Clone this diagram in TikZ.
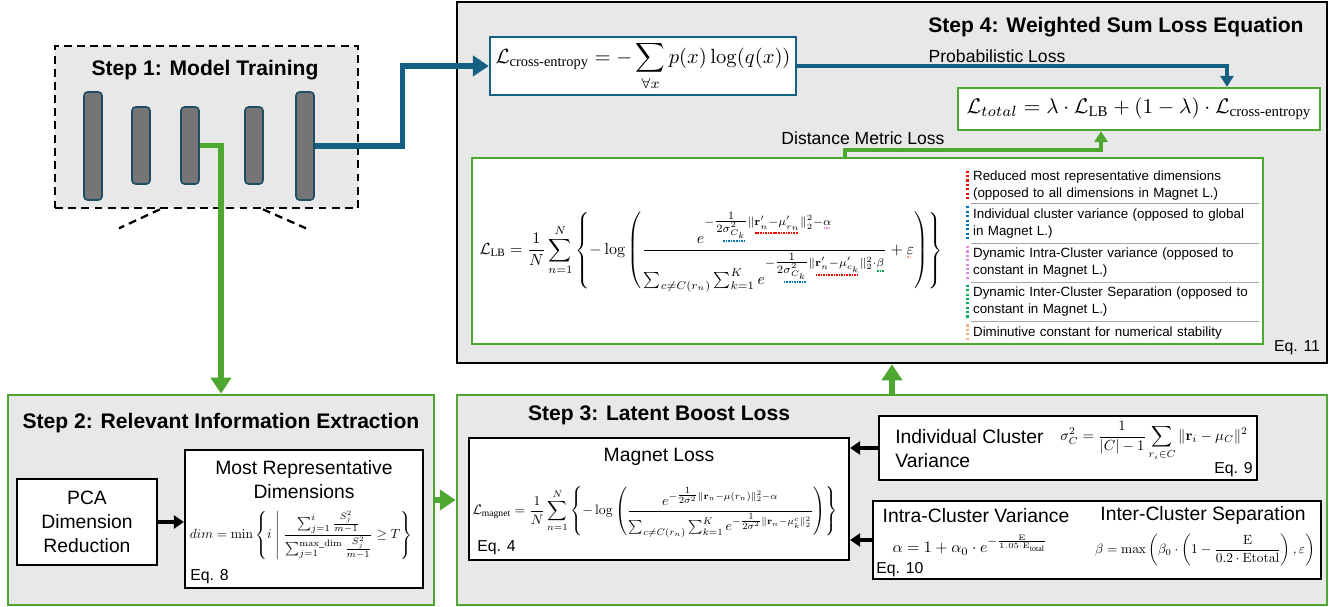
\documentclass[tikz,border=0pt]{standalone}
\usepackage{amsmath}
\usepackage{graphicx}
\usepackage[no-math]{fontspec}
\setmainfont{Liberation Sans}
\newfontfamily\timesfont{Liberation Serif}
\usepackage{tikz}
\usetikzlibrary{arrows.meta,positioning,calc}

\definecolor{panelgray}{HTML}{E8E8E8}
\definecolor{lossgreen}{HTML}{4EA72E}
\definecolor{lossteal}{HTML}{156082}
\definecolor{bargray}{HTML}{757575}
\definecolor{bardark}{HTML}{1C4C66}
\definecolor{dotred}{HTML}{FF0000}
\definecolor{dotblue}{HTML}{0070C0}
\definecolor{dotpink}{HTML}{E38BE0}
\definecolor{dotgreen}{HTML}{00B050}
\definecolor{dotpeach}{HTML}{F7AE86}

% upright words inside formulas
\newcommand{\eqtext}[1]{\text{\timesfont #1}}
% formula squeezed to a given width
\newcommand{\fiteq}[2]{\resizebox{#1}{!}{$\displaystyle #2$}}
\newcommand{\efrac}[2]{\genfrac{}{}{}{1}{#1}{#2}}
% dotted coloured underline for one term
\makeatletter
\newcommand{\dotul}[2]{\mathpalette{\dotul@{#1}}{#2}}
\newcommand{\dotul@}[3]{\setbox0=\hbox{$\m@th#2#3$}%
  \vtop{\offinterlineskip\copy0\kern1pt\hbox to\wd0{\color{#1}\leaders\hbox to 1.6pt{\hss\vrule width 1pt height 1pt\hss}\hfill}}}
\makeatother

\begin{document}
\begin{tikzpicture}[x=0.02cm, y=-0.02cm,
    panel/.style={draw, fill=panelgray, line width=1.5pt, inner sep=0pt},
    card/.style={draw, fill=white, line width=1.3pt, inner sep=0pt},
    title/.style={font=\fontsize{12}{14}\selectfont\bfseries},
    body/.style={font=\fontsize{11}{13.6}\selectfont, align=center, inner sep=0pt},
    tag/.style={font=\fontsize{10}{12}\selectfont, inner sep=0pt},
    eqno/.style={font=\fontsize{9}{10}\selectfont, inner sep=0pt},
    layer/.style={draw=bardark, fill=bargray, line width=0.9pt, rounded corners=2pt, minimum width=0.36cm, inner sep=0pt},
    key/.style={anchor=north west, text width=5.68cm, align=left, inner xsep=1pt, inner ysep=0pt, font=\fontsize{7.6}{9.6}\selectfont},
    keybar/.style={line width=1.6pt, dash pattern=on 1.2pt off 1.3pt, shorten <=1.5pt, shorten >=2pt},
    flow/.style={line width=3pt, -{Triangle[length=0.32cm, width=0.4cm]}},
    thinflow/.style={line width=2.2pt, -{Triangle[length=0.22cm, width=0.26cm]}},
    blackflow/.style={line width=2pt, -{Triangle[length=0.2cm, width=0.26cm]}},
]
    \useasboundingbox (0,0) rectangle (1340,607);

    % Panels
    \node[panel, dash pattern=on 4.5pt off 3pt, minimum width=6.06cm, minimum height=3.24cm] (step1) at (206.5,127) {};
    \node[panel, minimum width=17.4cm, minimum height=7.22cm] (step4) at (892,182.5) {};
    \node[panel, draw=lossgreen, minimum width=8.52cm, minimum height=4.2cm] (step2) at (221,500) {};
    \node[panel, draw=lossgreen, minimum width=17.4cm, minimum height=4.2cm] (step3) at (892,500) {};

    % Step 1: network layers
    \node[title] (s1title) at (205,70) {Step 1: Model Training};
    \node[layer, minimum height=2.16cm] (l1) at (93,146) {};
    \node[layer, minimum height=1.54cm] (l2) at (141,145.5) {};
    \node[layer, minimum height=1.54cm] (l3) at (190,145.5) {};
    \node[layer, minimum height=1.54cm] (l4) at (254,145.5) {};
    \node[layer, minimum height=2.16cm] (l5) at (305,146) {};
    \draw[dash pattern=on 4.5pt off 3pt, line width=1.3pt] ([xshift=-0.93cm]step1.south) -- ++(-41,19);
    \draw[dash pattern=on 4.5pt off 3pt, line width=1.3pt] ([xshift=1.13cm]step1.south) -- ++(43,19);

    % Step 4: weighted sum
    \node[title] (s4title) at (1116,27) {Step 4: Weighted Sum Loss Equation};
    \node[card, draw=lossteal, minimum width=6.12cm, minimum height=1.16cm] (ce) at (643,66)
        {\fiteq{5.9cm}{\mathcal{L}_{\eqtext{cross-entropy}} = -\sum_{\forall x} p(x)\log(q(x))}};
    \node[card, draw=lossgreen, minimum width=7.24cm, minimum height=0.84cm] (total) at (1139,109)
        {\fiteq{6.9cm}{\mathcal{L}_{total} = \lambda\cdot\mathcal{L}_{\eqtext{LB}} + (1-\lambda)\cdot\mathcal{L}_{\eqtext{cross-entropy}}}};
    \node[card, draw=lossgreen, minimum width=15.82cm, minimum height=3.72cm] (lb) at (867.5,251) {};
    \node (lbeq) at (711,252) {\fiteq{9.26cm}{\mathcal{L}_{\eqtext{LB}} = \frac{1}{N}\sum_{n=1}^{N}\left\{-\log\left(
        \frac{e^{-\efrac{1}{2\dotul{dotblue}{\sigma^2_{C_k}}}\|\dotul{dotred}{\mathbf{r}'_n-\mu'_{r_n}}\|_2^2-\dotul{dotpink}{\alpha}}}
             {\sum_{c\neq C(r_n)}\sum_{k=1}^{K} e^{-\efrac{1}{2\dotul{dotblue}{\sigma^2_{C_k}}}\|\dotul{dotred}{\mathbf{r}'_n-\mu'_{c_k}}\|_2^2\cdot\dotul{dotgreen}{\beta}}}
        + \dotul{dotpeach}{\varepsilon}\right)\right\}}};

    % Legend of the new terms
    \node[key, minimum height=0.7cm] (k1) at (971,168) {Reduced most representative dimensions\\(opposed to all dimensions in Magnet L.)};
    \node[key, minimum height=0.78cm, below=0pt of k1] (k2) {Individual cluster variance (opposed to global\\in Magnet L.)};
    \node[key, minimum height=0.76cm, below=0pt of k2] (k3) {Dynamic Intra-Cluster variance (opposed to\\constant in Magnet L.)};
    \node[key, minimum height=0.78cm, below=0pt of k3] (k4) {Dynamic Inter-Cluster Separation (opposed to\\constant in Magnet L.)};
    \node[key, minimum height=0.44cm, below=0pt of k4] (k5) {Diminutive constant for numerical stability};
    \draw[gray!70, line width=0.6pt] (k1.south west) -- (k1.south east);
    \draw[gray!70, line width=0.6pt] (k2.south west) -- (k2.south east);
    \draw[gray!70, line width=0.6pt] (k3.south west) -- (k3.south east);
    \draw[gray!70, line width=0.6pt] (k4.south west) -- (k4.south east);
    \draw[keybar, dotred] ([xshift=-2pt]k1.north west) -- ([xshift=-2pt]k1.south west);
    \draw[keybar, dotblue] ([xshift=-2pt]k2.north west) -- ([xshift=-2pt]k2.south west);
    \draw[keybar, dotpink] ([xshift=-2pt]k3.north west) -- ([xshift=-2pt]k3.south west);
    \draw[keybar, dotgreen] ([xshift=-2pt]k4.north west) -- ([xshift=-2pt]k4.south west);
    \draw[keybar, dotpeach] ([xshift=-2pt]k5.north west) -- ([xshift=-2pt]k5.south west);
    \node[eqno] (eq11) at (1297,348) {Eq. 11};

    % Losses into the total
    \draw[thinflow, lossteal] (ce.east) -| ([xshift=1.76cm]total.north);
    \node[tag] (problabel) at (997,56) {Probabilistic Loss};
    \draw[thinflow, lossgreen] ([xshift=-0.45cm]lb.north) -- ++(0,-7) -| ([xshift=-0.76cm]total.south);
    \node[tag] (distlabel) at (863,138) {Distance Metric Loss};

    % Step 2: relevant information
    \node[title] (s2title) at (221,423) {Step 2: Relevant Information Extraction};
    \node[card, body, minimum width=2.8cm, minimum height=1.72cm] (pca) at (87,522) {PCA\\Dimension\\Reduction};
    \node[card, minimum width=4.76cm, minimum height=2.76cm] (mrd) at (304,519) {};
    \node[body] (mrdtitle) at (304,479.5) {Most Representative\\Dimensions};
    \node (dimeq) at (301,535) {\fiteq{4.45cm}{dim = \min\left\{ i \;\middle|\; \frac{\sum_{j=1}^{i}\frac{S_j^2}{m-1}}{\sum_{j=1}^{\mathrm{max\_dim}}\frac{S_j^2}{m-1}} \geq T \right\}}};
    \node[eqno, anchor=west] (eq8) at (190,577) {Eq. 8};
    \draw[blackflow] (pca.east) -- (pca.east -| mrd.west);

    % Step 3: latent boost
    \node[title] (s3title) at (659,415) {Step 3: Latent Boost Loss};
    \node[card, minimum width=7.6cm, minimum height=2.44cm] (magnet) at (659,499) {};
    \node[body] (magtitle) at (659,457) {Magnet Loss};
    \node (mageq) at (655,512) {\fiteq{7.3cm}{\mathcal{L}_{\eqtext{magnet}} = \frac{1}{N}\sum_{n=1}^{N}\left\{-\log\left(
        \frac{e^{-\efrac{1}{2\sigma^2}\|\mathbf{r}_n-\mu(r_n)\|_2^2-\alpha}}
             {\sum_{c\neq C(r_n)}\sum_{k=1}^{K}e^{-\efrac{1}{2\sigma^2}\|\mathbf{r}_n-\mu_k^c\|_2^2}}\right)\right\}}};
    \node[eqno, anchor=west] (eq4) at (477,548) {Eq. 4};

    \node[card, minimum width=7.56cm, minimum height=1.28cm] (indiv) at (1068,448) {};
    \node[body, align=left, anchor=west] (indivtitle) at (895,449) {Individual Cluster\\Variance};
    \node (indiveq) at (1154,441) {\fiteq{3.75cm}{\sigma_C^2 = \frac{1}{|C|-1}\sum_{r_i\in C}\|\mathbf{r}_i-\mu_C\|^2}};
    \node[eqno, anchor=east] (eq9) at (1253,470) {Eq. 9};

    \node[card, minimum width=8.96cm, minimum height=1.56cm] (intra) at (1097,540) {};
    \node[body] (intratitle) at (976,516) {Intra-Cluster Variance};
    \node (alphaeq) at (970,545) {\fiteq{3.1cm}{\alpha = 1 + \alpha_0\cdot e^{-\frac{\mathrm{E}}{1.05\cdot\mathrm{E}_{\eqtext{total}}}}}};
    \node[body] (intertitle) at (1203,516) {Inter-Cluster Separation};
    \node (betaeq) at (1205,550) {\fiteq{4.4cm}{\beta = \max\left(\beta_0\cdot\left(1-\frac{\mathrm{E}}{0.2\cdot\mathrm{Etotal}}\right),\varepsilon\right)}};
    \node[eqno, anchor=west] (eq10) at (876,570) {Eq. 10};

    \draw[blackflow] (indiv.west) -- (indiv.west -| magnet.east);
    \draw[blackflow] (intra.west) -- (intra.west -| magnet.east);

    % Flow between the steps
    \draw[flow, lossteal] (l5.east) -- ++(88,0) |- (ce.west);
    \draw[flow, lossgreen] (l3.east) -| (step2.north);
    \draw[flow, lossgreen] (step2.east) -- (step3.west);
    \draw[flow, lossgreen] (step3.north) -- (step4.south);
\end{tikzpicture}
\end{document}
